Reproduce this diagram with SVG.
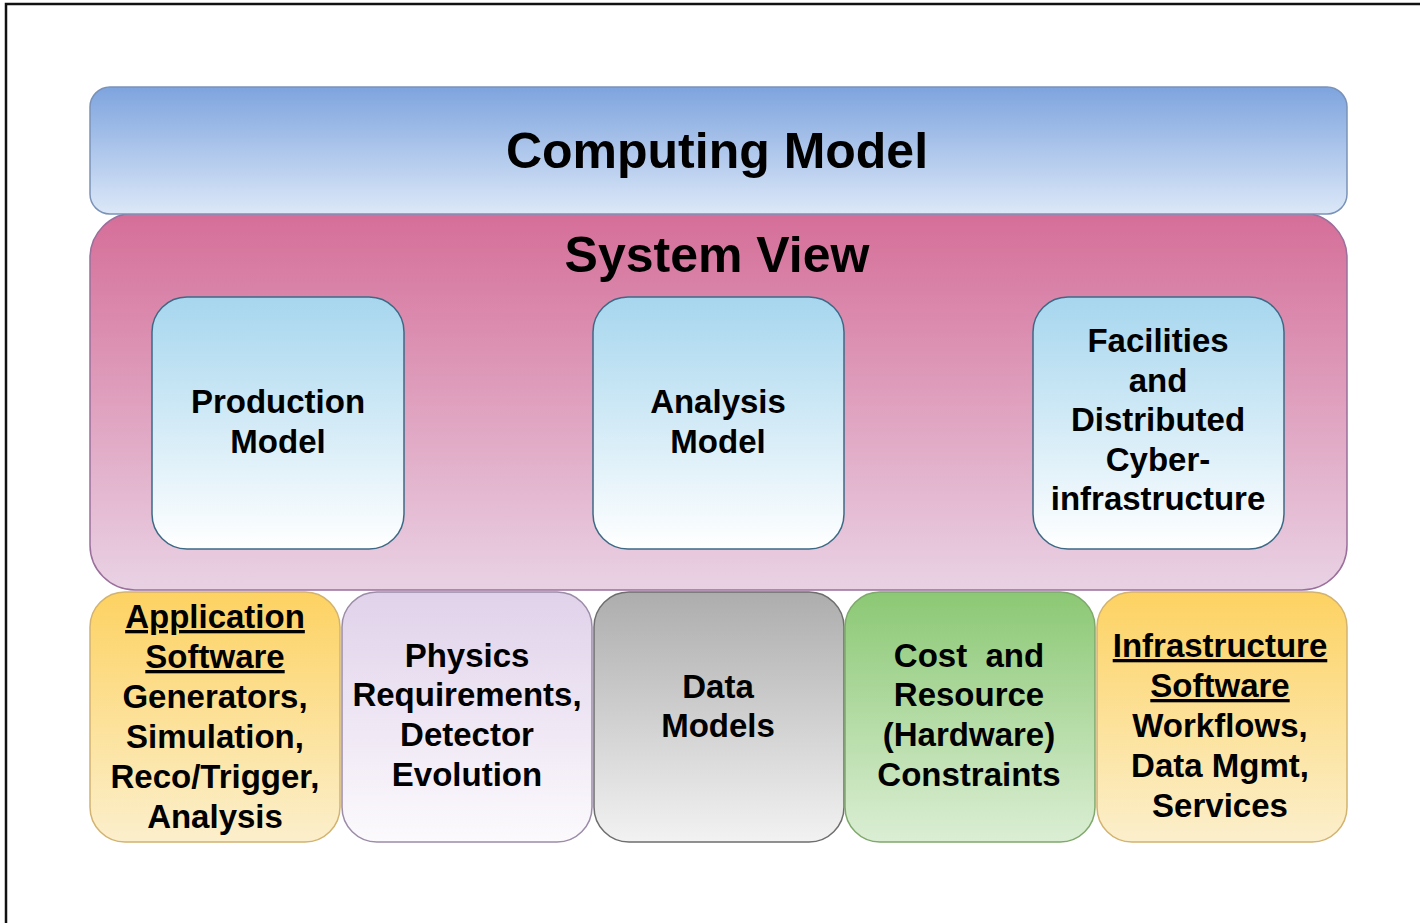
<svg xmlns="http://www.w3.org/2000/svg" width="1420" height="923" viewBox="0 0 1420 923">
<defs>
<linearGradient id="gBlue" x1="0" y1="0" x2="0" y2="1"><stop offset="0" stop-color="#7ea4de"/><stop offset="1" stop-color="#dce8f8"/></linearGradient>
<linearGradient id="gPink" x1="0" y1="0" x2="0" y2="1"><stop offset="0" stop-color="#d56e98"/><stop offset="1" stop-color="#e9d2e4"/></linearGradient>
<linearGradient id="gInner" x1="0" y1="0" x2="0" y2="1"><stop offset="0" stop-color="#a6d6ee"/><stop offset="1" stop-color="#ffffff"/></linearGradient>
<linearGradient id="gYellow" x1="0" y1="0" x2="0" y2="1"><stop offset="0" stop-color="#fdd262"/><stop offset="1" stop-color="#fbefcc"/></linearGradient>
<linearGradient id="gLilac" x1="0" y1="0" x2="0" y2="1"><stop offset="0" stop-color="#e0d2ea"/><stop offset="1" stop-color="#fcfafd"/></linearGradient>
<linearGradient id="gGray" x1="0" y1="0" x2="0" y2="1"><stop offset="0" stop-color="#adadad"/><stop offset="1" stop-color="#f2f2f2"/></linearGradient>
<linearGradient id="gGreen" x1="0" y1="0" x2="0" y2="1"><stop offset="0" stop-color="#8bc874"/><stop offset="1" stop-color="#dbeed4"/></linearGradient>
</defs>
<style>
text{font-family:"Liberation Sans",Arial,Helvetica,sans-serif;font-weight:bold;fill:#000;text-anchor:middle}
.big{font-size:50px}
.lbl{font-size:33px}
.u{text-decoration:underline}
</style>
<rect x="0" y="0" width="1420" height="923" fill="#ffffff"/>
<path d="M6,923 V4 H1420" fill="none" stroke="#111" stroke-width="2.5"/>

<g id="system-view">
<rect x="90" y="213" width="1257" height="377" rx="45" fill="url(#gPink)" stroke="#9a6f9c" stroke-width="1.5"/>
<text class="big" x="717" y="272">System View</text>
</g>
<g id="computing-model">
<rect x="90" y="87" width="1257" height="127" rx="20" fill="url(#gBlue)" stroke="#7b92b8" stroke-width="1.5"/>
<text class="big" x="717" y="168">Computing Model</text>
</g>

<g id="production-model">
<rect x="152" y="297" width="252" height="252" rx="35" fill="url(#gInner)" stroke="#3c6a86" stroke-width="1.5"/>
<text class="lbl" x="278" y="413">Production</text>
<text class="lbl" x="278" y="453">Model</text>
</g>
<g id="analysis-model">
<rect x="593" y="297" width="251" height="252" rx="35" fill="url(#gInner)" stroke="#3c6a86" stroke-width="1.5"/>
<text class="lbl" x="718" y="413">Analysis</text>
<text class="lbl" x="718" y="453">Model</text>
</g>
<g id="facilities">
<rect x="1033" y="297" width="251" height="252" rx="35" fill="url(#gInner)" stroke="#3c6a86" stroke-width="1.5"/>
<text class="lbl" x="1158" y="352">Facilities</text>
<text class="lbl" x="1158" y="392">and</text>
<text class="lbl" x="1158" y="431">Distributed</text>
<text class="lbl" x="1158" y="471">Cyber-</text>
<text class="lbl" x="1158" y="510">infrastructure</text>
</g>

<g id="application-software">
<rect x="90" y="592" width="250" height="250" rx="35" fill="url(#gYellow)" stroke="#d2b370" stroke-width="1.5"/>
<text class="lbl u" x="215" y="628">Application</text>
<text class="lbl u" x="215" y="668">Software</text>
<text class="lbl" x="215" y="708">Generators,</text>
<text class="lbl" x="215" y="748">Simulation,</text>
<text class="lbl" x="215" y="788">Reco/Trigger,</text>
<text class="lbl" x="215" y="828">Analysis</text>
</g>
<g id="physics-requirements">
<rect x="342" y="592" width="250" height="250" rx="35" fill="url(#gLilac)" stroke="#9b8ca8" stroke-width="1.5"/>
<text class="lbl" x="467" y="667">Physics</text>
<text class="lbl" x="467" y="706">Requirements,</text>
<text class="lbl" x="467" y="746">Detector</text>
<text class="lbl" x="467" y="786">Evolution</text>
</g>
<g id="data-models">
<rect x="594" y="592" width="250" height="250" rx="35" fill="url(#gGray)" stroke="#6e6e6e" stroke-width="1.5"/>
<text class="lbl" x="718" y="698">Data</text>
<text class="lbl" x="718" y="737">Models</text>
</g>
<g id="cost-resource">
<rect x="845" y="592" width="250" height="250" rx="35" fill="url(#gGreen)" stroke="#7fa86c" stroke-width="1.5"/>
<text class="lbl" x="969" y="667" xml:space="preserve">Cost  and</text>
<text class="lbl" x="969" y="706">Resource</text>
<text class="lbl" x="969" y="746">(Hardware)</text>
<text class="lbl" x="969" y="786">Constraints</text>
</g>
<g id="infrastructure-software">
<rect x="1097" y="592" width="250" height="250" rx="35" fill="url(#gYellow)" stroke="#d2b370" stroke-width="1.5"/>
<text class="lbl u" x="1220" y="657">Infrastructure</text>
<text class="lbl u" x="1220" y="697">Software</text>
<text class="lbl" x="1220" y="737">Workflows,</text>
<text class="lbl" x="1220" y="777">Data Mgmt,</text>
<text class="lbl" x="1220" y="817">Services</text>
</g>
<g id="connectors"></g>
</svg>
